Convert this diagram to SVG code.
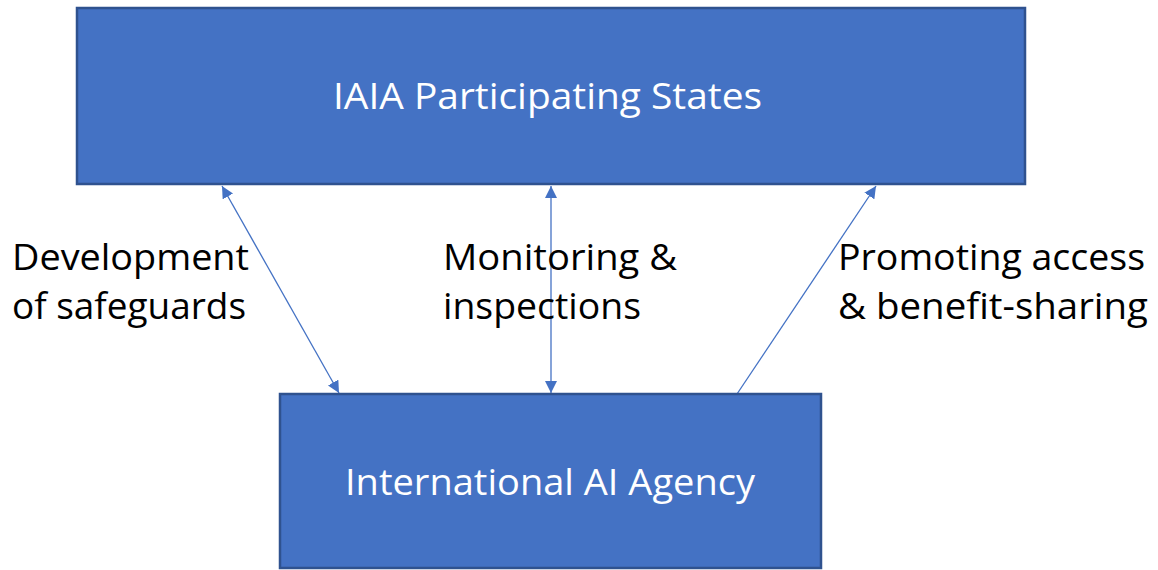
<svg xmlns="http://www.w3.org/2000/svg" width="1158" height="570" viewBox="0 0 1158 570">
<style>
.box{fill:#4472C4;stroke:#2F528F;stroke-width:2.5}
.bt{fill:#FFFFFF;font-family:"Open Sans","Liberation Sans",sans-serif;font-size:36px}
.lb{fill:#000000;font-family:"Open Sans","Liberation Sans",sans-serif;font-size:37px}
.con{stroke:#4472C4;stroke-width:1.3;fill:none}
</style>
<defs>
<marker id="ah" viewBox="0 0 10 10" refX="10" refY="5" markerWidth="12" markerHeight="12" markerUnits="userSpaceOnUse" orient="auto-start-reverse">
<path d="M0,0 L10,5 L0,10 z" fill="#4472C4"/>
</marker>
</defs>
<rect width="1158" height="570" fill="#FFFFFF"/>
<g id="connectors">
<line class="con" x1="222" y1="186" x2="339" y2="393" marker-start="url(#ah)" marker-end="url(#ah)"/>
<line class="con" x1="551" y1="186" x2="551" y2="393" marker-start="url(#ah)" marker-end="url(#ah)"/>
<line class="con" x1="737" y1="394" x2="876" y2="186" marker-end="url(#ah)"/>
</g>
<g id="node-states">
<rect class="box" x="77" y="8" width="948" height="176"/>
<text class="bt" x="333" y="109" textLength="429" lengthAdjust="spacingAndGlyphs">IAIA Participating States</text>
</g>
<g id="node-agency">
<rect class="box" x="280" y="394" width="541" height="174"/>
<text class="bt" x="345" y="495" textLength="410" lengthAdjust="spacingAndGlyphs">International AI Agency</text>
</g>
<g id="labels">
<text class="lb" x="12" y="270" textLength="237" lengthAdjust="spacingAndGlyphs">Development</text>
<text class="lb" x="12" y="319" textLength="234" lengthAdjust="spacingAndGlyphs">of safeguards</text>
<text class="lb" x="443" y="270" textLength="234" lengthAdjust="spacingAndGlyphs">Monitoring &amp;</text>
<text class="lb" x="443" y="319" textLength="198" lengthAdjust="spacingAndGlyphs">inspections</text>
<text class="lb" x="838" y="270" textLength="307" lengthAdjust="spacingAndGlyphs">Promoting access</text>
<text class="lb" x="838" y="319" textLength="310" lengthAdjust="spacingAndGlyphs">&amp; benefit-sharing</text>
</g>
</svg>
